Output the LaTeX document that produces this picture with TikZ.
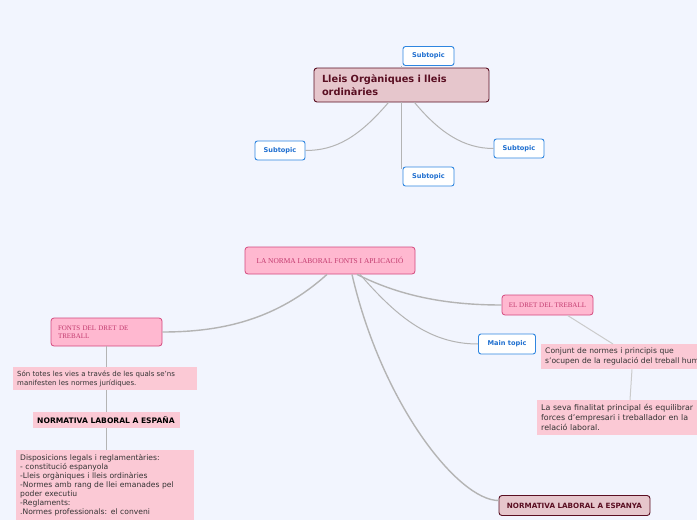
\documentclass[tikz,border=0pt]{standalone}
\usepackage{fontspec}
\setmainfont{DejaVu Sans}
\newfontfamily\fancyfont{Liberation Serif}
\usetikzlibrary{positioning,calc}
\definecolor{mapbg}{HTML}{F2F5FE}
\definecolor{maroonline}{HTML}{5A0F22}
\definecolor{maroonfill}{HTML}{E6C6CC}
\definecolor{subblue}{HTML}{2F86E0}
\definecolor{subtext}{HTML}{1F6FD0}
\definecolor{pinkline}{HTML}{D4487E}
\definecolor{pinkfill}{HTML}{FFB8D0}
\definecolor{pinktext}{HTML}{C23A6E}
\definecolor{notefill}{HTML}{FBC9D5}
\definecolor{notetext}{HTML}{333333}
\definecolor{linkgray}{HTML}{B4B4B4}

\begin{document}
\begin{tikzpicture}[x=1pt, y=-1pt,
  topicbox/.style={draw=maroonline, fill=maroonfill, rounded corners=3pt, line width=0.9pt, text=maroonline, font=\bfseries},
  subbox/.style={draw=subblue, fill=white, rounded corners=2.5pt, line width=0.9pt, text=subtext, font=\fontsize{6.6}{8}\selectfont\bfseries, minimum height=19pt},
  pinkbox/.style={draw=pinkline, fill=pinkfill, rounded corners=3pt, line width=0.8pt, text=pinktext, font=\fancyfont\fontsize{7}{8.5}\selectfont},
  notebox/.style={fill=notefill, text=notetext, align=left, anchor=north west, inner xsep=4pt, inner ysep=3pt},
  link/.style={draw=linkgray, line width=1pt},
  mainlink/.style={draw=linkgray, line width=1.4pt}]
  % Canvas
  \clip (0,0) rectangle (697,520);
  \fill[mapbg] (0,0) rectangle (697,520);
  % Upper map
  \node[topicbox, minimum width=175pt, minimum height=34pt, text width=159pt, align=left, font=\fontsize{9.8}{13}\selectfont\bfseries] (lleis) at (401.5,85) {Lleis Orgàniques i lleis\\ordinàries};
  \node[subbox, minimum width=51pt] (subtop) at (428.5,56) {Subtopic};
  \node[subbox, minimum width=50pt] (subleft) at (280,150.5) {Subtopic};
  \node[subbox, minimum width=50pt] (subright) at (519,148.5) {Subtopic};
  \node[subbox, minimum width=51pt] (subbottom) at (428.5,176.5) {Subtopic};
  \draw[link] ([xshift=-13]lleis.south) .. controls +(-30,35) and +(30,0) .. (subleft.east);
  \draw[link] ([xshift=13]lleis.south) .. controls +(25,30) and +(-30,0) .. (subright.west);
  \draw[link] ([xshift=-1]subtop.south west) -- ([xshift=-1]lleis.north -| subtop.west);
  \draw[link] ([xshift=-1]lleis.south -| subbottom.west) -- ([xshift=-1,yshift=-2]subbottom.north west);
  % Lower map
  \node[pinkbox, minimum width=170pt, minimum height=27pt, font=\fancyfont\fontsize{7.4}{9}\selectfont] (norma) at (330,260.5) {LA NORMA LABORAL FONTS I APLICACIÓ};
  \node[pinkbox, minimum width=111pt, minimum height=28pt, text width=97pt, align=left] (fonts) at (106.5,332) {FONTS DEL DRET DE\\TREBALL};
  \node[pinkbox, minimum width=91pt, minimum height=20pt] (dret) at (547.5,305) {EL DRET DEL TREBALL};
  \node[subbox, minimum width=57pt, minimum height=20pt] (maintopic) at (507,344) {Main topic};
  \node[topicbox, minimum width=151pt, minimum height=20pt, font=\fontsize{7.2}{8.5}\selectfont\bfseries] (espanya) at (574.5,505.5) {NORMATIVA LABORAL A ESPANYA};
  % Notes
  \node[notebox, minimum width=184pt, minimum height=23pt, text width=176pt, font=\fontsize{7}{9}\selectfont] (vies) at (13,367) {Són totes les vies a través de les quals se'ns\\manifesten les normes jurídiques.};
  \node[notebox, minimum width=147pt, minimum height=16pt, text width=139pt, text=black, font=\fontsize{7.6}{9}\selectfont\bfseries] (espana) at (33,412) {NORMATIVA LABORAL A ESPAÑA};
  \node[notebox, minimum width=178pt, inner ysep=4pt, text width=170pt, font=\fontsize{7.6}{9.1}\selectfont] (dispo) at (16,450) {Disposicions legals i reglamentàries:\\- constitució espanyola\\-Lleis orgàniques i lleis ordinàries\\-Normes amb rang de llei emanades pel\\poder executiu\\-Reglaments:\\.Normes professionals: el conveni};
  \node[notebox, minimum width=220pt, minimum height=25pt, text width=212pt, font=\fontsize{7.6}{10}\selectfont] (conjunt) at (541,344) {Conjunt de normes i principis que\\s'ocupen de la regulació del treball humà};
  \node[notebox, minimum width=165pt, minimum height=35pt, text width=157pt, font=\fontsize{7.9}{10}\selectfont] (seva) at (537,400) {La seva finalitat principal és equilibrar\\forces d'empresari i treballador en la\\relació laboral.};
  % Connectors
  \draw[mainlink] ([xshift=-3]norma.south) .. controls +(-50,45) and +(60,0) .. (fonts.east);
  \draw[mainlink] ([xshift=27]norma.south) .. controls +(40,20) and +(-60,0) .. (dret.west);
  \draw[link] ([xshift=30]norma.south) .. controls +(35,40) and +(-50,0) .. (maintopic.west);
  \draw[mainlink] ([xshift=22]norma.south) .. controls +(30,130) and +(-40,0) .. ([yshift=5]espanya.west);
  \draw[link] (fonts.south) -- (fonts.south |- vies.north);
  \draw[link] (fonts.south |- vies.south) -- (fonts.south |- espana.north);
  \draw[link] (fonts.south |- espana.south) -- (fonts.south |- dispo.north);
  \draw[link, draw=linkgray!70] ([xshift=20]dret.south) -- ([xshift=72]conjunt.north west);
  \draw[link, draw=linkgray!70] ([xshift=91]conjunt.south west) -- ([xshift=93]seva.north west);
\end{tikzpicture}
\end{document}
